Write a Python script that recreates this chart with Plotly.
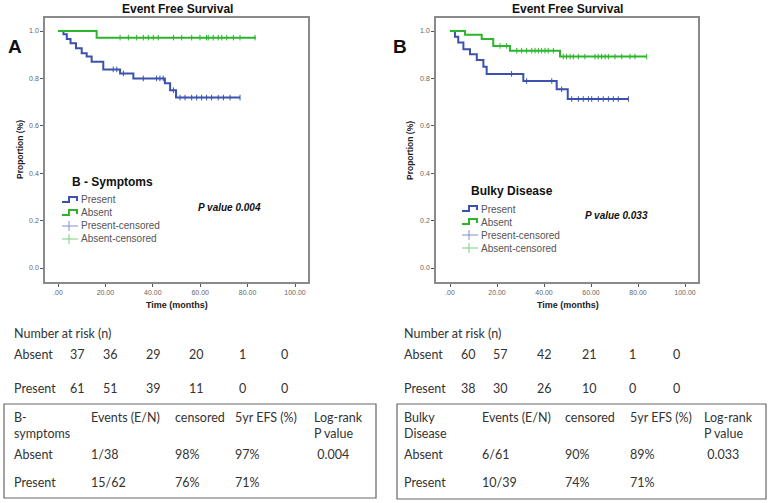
import numpy as np
import plotly.graph_objects as go

W, H = 770, 503

# ---------------- data ----------------
# Panel A : B-symptoms
a_pres_event_t = [2.3, 3.7, 5.3, 7.6, 10.0, 12.1, 14.2, 19.1, 26.2, 31.8, 45.1, 47.3, 49.8]
a_pres_event_s = [0.986, 0.966, 0.948, 0.927, 0.906, 0.892, 0.870, 0.838, 0.821, 0.800, 0.780, 0.750, 0.719]
a_pres_end = 76.8
a_pres_cens = [23.3, 24.8, 27.6, 36.0, 41.6, 43.0, 44.4, 48.7, 51.5, 53.6, 56.4, 58.5, 60.6,
               62.7, 64.8, 67.6, 69.8, 72.6, 76.8]
a_abs_event_t = [16.3]
a_abs_event_s = [0.972]
a_abs_end = 83.5
a_abs_cens = [26.2, 29.7, 33.2, 36.0, 38.1, 40.2, 42.3, 48.7, 52.2, 56.4, 59.9, 62.7, 63.4,
              65.5, 67.6, 69.1, 71.2, 74.0, 76.8, 83.1]

# Panel B : Bulky disease
b_pres_event_t = [2.1, 3.5, 5.7, 8.5, 11.4, 14.2, 15.6, 31.2, 45.4, 50.1]
b_pres_event_s = [0.976, 0.951, 0.923, 0.902, 0.878, 0.849, 0.819, 0.789, 0.754, 0.713]
b_pres_end = 75.9
b_pres_cens = [26.2, 32.6, 43.3, 47.5, 51.8, 54.6, 56.7, 58.9, 60.3, 63.1, 65.2, 67.4, 69.5,
               71.6, 75.9]
b_abs_event_t = [6.4, 13.5, 18.4, 25.5, 46.8]
b_abs_event_s = [0.984, 0.966, 0.937, 0.917, 0.892]
b_abs_end = 83.7
b_abs_cens = [21.3, 24.1, 28.4, 30.5, 32.6, 34.8, 36.2, 37.6, 39.0, 40.4, 41.8, 44.0, 48.2,
              49.6, 51.1, 52.5, 54.6, 57.4, 61.7, 63.1, 64.5, 66.0, 67.4, 70.2, 73.1, 76.6,
              78.7, 83.7]

x_ticks = [0, 20, 40, 60, 80, 100]
x_tick_labels = [".00", "20.00", "40.00", "60.00", "80.00", "100.00"]
y_ticks = [0, 0.2, 0.4, 0.6, 0.8, 1.0]
y_tick_labels = ["0.0", "0.2", "0.4", "0.6", "0.8", "1.0"]

risk_labels = ["Absent", "Present"]
a_risk_absent = [37, 36, 29, 20, 1, 0]
a_risk_present = [61, 51, 39, 11, 0, 0]
b_risk_absent = [60, 57, 42, 21, 1, 0]
b_risk_present = [38, 30, 26, 10, 0, 0]

a_tab_header = ["B-<br>symptoms", "Events (E/N)", "censored", "5yr EFS (%)", "Log-rank<br>P value"]
a_tab_absent = ["Absent", "1/38", "98%", "97%", " 0.004"]
a_tab_present = ["Present", "15/62", "76%", "71%", ""]
b_tab_header = ["Bulky<br>Disease", "Events (E/N)", "censored", "5yr EFS (%)", "Log-rank<br>P value"]
b_tab_absent = ["Absent", "6/61", "90%", "89%", " 0.033"]
b_tab_present = ["Present", "10/39", "74%", "71%", ""]

# ---------------- styling ----------------
BLUE = "#3a52ad"
GREEN = "#2db52d"
BLUE_L = "#7f8fcf"
GREEN_L = "#7fcf7f"
AXC = "#8a8a8a"


def px(x):
    return x / W


def py(y):
    return 1 - y / H


def steps(t, s, end):
    xs = [0] + list(t) + [end]
    ys = [1.0] + list(s) + [s[-1]]
    return xs, ys


def surv_at(t_ev, s_ev, times):
    t_ev = np.asarray(t_ev)
    s_ev = np.asarray(s_ev)
    out = []
    for tt in times:
        idx = np.searchsorted(t_ev, tt, side="right") - 1
        out.append(1.0 if idx < 0 else float(s_ev[idx]))
    return out


fig = go.Figure()

panels = [
    dict(xa="x", ya="y", box=(45, 18, 308, 282), x0px=58, x100px=295,
         pres=(a_pres_event_t, a_pres_event_s, a_pres_end, a_pres_cens),
         abs_=(a_abs_event_t, a_abs_event_s, a_abs_end, a_abs_cens)),
    dict(xa="x2", ya="y2", box=(436, 18, 698, 282), x0px=450, x100px=685,
         pres=(b_pres_event_t, b_pres_event_s, b_pres_end, b_pres_cens),
         abs_=(b_abs_event_t, b_abs_event_s, b_abs_end, b_abs_cens)),
]

y1px, y0px = 31, 268
for i, p in enumerate(panels):
    l, t, r, b = p["box"]
    ppu = (p["x100px"] - p["x0px"]) / 100.0
    xr = [(l - p["x0px"]) / ppu, (r - p["x0px"]) / ppu]
    ypu = (y0px - y1px) / 1.0
    yr = [(y0px - b) / ypu, (y0px - t) / ypu]
    sfx = "" if i == 0 else "2"
    axis_common = dict(showgrid=False, zeroline=False, showline=True, mirror=True,
                       linecolor=AXC, linewidth=1.5, ticks="outside", ticklen=3,
                       tickcolor="#555", tickwidth=1,
                       tickfont=dict(family="Liberation Sans, Arial", size=7, color="#666"))
    fig.update_layout(**{
        "xaxis" + sfx: dict(domain=[px(l), px(r)], range=xr, anchor="y" + sfx,
                            tickvals=x_ticks, ticktext=x_tick_labels, **axis_common),
        "yaxis" + sfx: dict(domain=[py(b), py(t)], range=yr, anchor="x" + sfx,
                            tickvals=y_ticks, ticktext=y_tick_labels, **axis_common),
    })
    for grp, col in [(p["pres"], BLUE), (p["abs_"], GREEN)]:
        te, se, end, cens = grp
        xs, ys = steps(te, se, end)
        fig.add_trace(go.Scatter(x=xs, y=ys, mode="lines", line=dict(color=col, width=2, shape="hv"),
                                 xaxis=p["xa"], yaxis=p["ya"], showlegend=False, hoverinfo="skip"))
        fig.add_trace(go.Scatter(x=cens, y=surv_at(te, se, cens), mode="markers",
                                 marker=dict(symbol="line-ns", size=4, color=col,
                                             line=dict(color=col, width=1)),
                                 xaxis=p["xa"], yaxis=p["ya"], showlegend=False, hoverinfo="skip"))

annotations = []
shapes = []


def text(x, y, s, size=12, color="#222", bold=False, italic=False, xanchor="left",
         yanchor="middle", family="Lato, Calibri, sans-serif", angle=0):
    if bold:
        s = "<b>" + s + "</b>"
    if italic:
        s = "<i>" + s + "</i>"
    annotations.append(dict(x=px(x), y=py(y), xref="paper", yref="paper", text=s, showarrow=False,
                            xanchor=xanchor, yanchor=yanchor, textangle=angle,
                            align="left" if xanchor == "left" else "center",
                            font=dict(family=family, size=size, color=color)))


ARIAL = "Liberation Sans, Arial, sans-serif"

# Titles and labels
for cx, lab, lx, ylabx, xtc in [(177, "A", 15, 20, 177), (567, "B", 400, 410, 568)]:
    text(cx, 9, "Event Free Survival", size=12, color="#111", bold=True, xanchor="center", family=ARIAL)
    text(lx, 46, lab, size=19, color="#111", bold=True, xanchor="center", family=ARIAL)
    text(ylabx, 150, "Proportion (%)", size=8.5, color="#222", bold=True, xanchor="center",
         family=ARIAL, angle=-90)
    text(xtc, 305, "Time (months)", size=9, color="#222", bold=True, xanchor="center", family=ARIAL)

# Legends (manual)
legends = [
    dict(title="B - Symptoms", tx=70, ty=182, sx=62, ys=[200, 213, 226, 239], pv=(229, 207, "P value 0.004")),
    dict(title="Bulky Disease", tx=469, ty=191, sx=462, ys=[209, 222, 235, 248], pv=(616, 215, "P value 0.033")),
]
entry_names = ["Present", "Absent", "Present-censored", "Absent-censored"]
for lg in legends:
    text(lg["tx"], lg["ty"], lg["title"], size=12, color="#111", bold=True, family=ARIAL)
    sx = lg["sx"]
    for k, (name, yy) in enumerate(zip(entry_names, lg["ys"])):
        text(sx + 17, yy, name, size=10, color="#555", family=ARIAL)
        if k < 2:
            col = BLUE if k == 0 else GREEN
            path = (f"M {px(sx)},{py(yy+2)} L {px(sx+7)},{py(yy+2)} L {px(sx+7)},{py(yy-3)} "
                    f"L {px(sx+15)},{py(yy-3)} L {px(sx+15)},{py(yy+1)}")
            shapes.append(dict(type="path", xref="paper", yref="paper", path=path,
                               line=dict(color=col, width=2)))
        else:
            col = BLUE_L if k == 2 else GREEN_L
            shapes.append(dict(type="line", xref="paper", yref="paper", x0=px(sx), x1=px(sx + 16),
                               y0=py(yy), y1=py(yy), line=dict(color=col, width=1)))
            shapes.append(dict(type="line", xref="paper", yref="paper", x0=px(sx + 7), x1=px(sx + 7),
                               y0=py(yy - 5), y1=py(yy + 5), line=dict(color=col, width=1)))
    pvx, pvy, pvt = lg["pv"]
    text(pvx, pvy, pvt, size=10, color="#111", bold=True, italic=True, xanchor="center", family=ARIAL)

# Number at risk
TF = "Lato, Calibri, sans-serif"
TC = "#333"
risk_sets = [
    dict(lx=12, cols=[77, 110, 153, 197, 242, 284], rows=[a_risk_absent, a_risk_present]),
    dict(lx=402, cols=[468, 500, 544, 589, 632, 676], rows=[b_risk_absent, b_risk_present]),
]
for rs in risk_sets:
    text(rs["lx"], 333, "Number at risk (n)", size=12.5, color=TC, family=TF)
    for lab, vals, yy in zip(risk_labels, rs["rows"], [354, 388]):
        text(rs["lx"], yy, lab, size=12.5, color=TC, family=TF)
        for cx, v in zip(rs["cols"], vals):
            text(cx, yy, str(v), size=12.5, color=TC, family=TF, xanchor="center")

# Summary tables
tables = [
    dict(box=(4, 404, 376, 498), cols=[12, 89, 173, 233, 312],
         rows=[a_tab_header, a_tab_absent, a_tab_present]),
    dict(box=(397, 404, 766, 499), cols=[402, 480, 563, 628, 702],
         rows=[b_tab_header, b_tab_absent, b_tab_present]),
]
for tb in tables:
    l, t, r, b = tb["box"]
    shapes.append(dict(type="rect", xref="paper", yref="paper", x0=px(l), x1=px(r), y0=py(b), y1=py(t),
                       line=dict(color="#666", width=1.2)))
    for cx, cell in zip(tb["cols"], tb["rows"][0]):
        text(cx, 408, cell, size=12.5, color=TC, family=TF, yanchor="top")
    for cx, cell in zip(tb["cols"], tb["rows"][1]):
        text(cx, 454, cell, size=12.5, color=TC, family=TF)
    for cx, cell in zip(tb["cols"], tb["rows"][2]):
        text(cx, 482, cell, size=12.5, color=TC, family=TF)

fig.update_layout(width=W, height=H, margin=dict(l=0, r=0, t=0, b=0),
                  paper_bgcolor="white", plot_bgcolor="white", showlegend=False,
                  annotations=annotations, shapes=shapes)

fig.write_html("out.html")
